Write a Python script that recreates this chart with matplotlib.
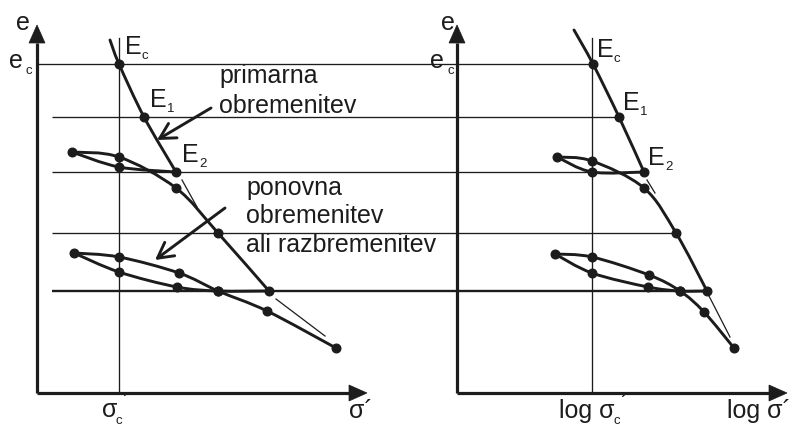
import numpy as np
import matplotlib
matplotlib.use("Agg")
import matplotlib.pyplot as plt
from matplotlib.path import Path
from matplotlib.patches import PathPatch, Polygon

plt.rcParams['font.family'] = ['Liberation Sans', 'DejaVu Sans']

INK = '#1c1c1c'

# Diagram coordinates: x grows to the right, e grows downward (sheet units).
# e-levels of the construction lines and where they start on the left
e_levels = [64, 117, 172, 233, 291]
line_start = [37, 52, 52, 52, 52]

# ---- e - sigma' diagram (left) ----
lin_sigma_c = 119
lin_virgin = [(110, 40), (119, 64), (144, 117), (176, 172)]
lin_unload1 = [(176, 172), (119, 167), (72, 152)]
lin_reload1 = [(72, 152), (119, 157), (176, 188), (218, 233), (269, 291)]
lin_unload2 = [(269, 291), (218, 291), (177, 287), (119, 272), (74, 253)]
lin_reload2 = [(74, 253), (119, 257), (179, 273), (218, 291), (267, 311), (336, 348)]
lin_extend = [[(182, 180), (197, 207)], [(276, 299), (325, 336)]]

# ---- e - log sigma' diagram (right) ----
log_sigma_c = 592
log_virgin = [(574, 30), (593, 64), (619, 117), (644, 172)]
log_unload1 = [(644, 172), (592, 172), (557, 157)]
log_reload1 = [(557, 157), (592, 161), (644, 188), (676, 233), (707, 291)]
log_unload2 = [(707, 291), (680, 291), (648, 287), (592, 273), (555, 254)]
log_reload2 = [(555, 254), (592, 257), (649, 275), (680, 291), (704, 312), (734, 348)]
log_extend = [[(647, 180), (655, 193)], [(709, 296), (730, 337)]]

# right-hand ends of the construction lines (points on the log diagram)
line_end = [593, 619, 644, 676, 707]

point_labels = ['c', '1', '2']


def smooth_path(pts):
    """Catmull-Rom curve through the points as cubic Bezier segments."""
    p = np.asarray(pts, dtype=float)
    n = len(p)
    verts = [p[0]]
    codes = [Path.MOVETO]
    if n == 2:
        return Path(p, [Path.MOVETO, Path.LINETO])
    for i in range(n - 1):
        p0 = p[i - 1] if i > 0 else p[i]
        p1, p2 = p[i], p[i + 1]
        p3 = p[i + 2] if i + 2 < n else p[i + 1]
        verts += [p1 + (p2 - p0) / 6.0, p2 - (p3 - p1) / 6.0, p2]
        codes += [Path.CURVE4] * 3
    return Path(verts, codes)


def curve(ax, pts, lw=2.1):
    ax.add_patch(PathPatch(smooth_path(pts), fill=False, lw=lw, ec=INK,
                           capstyle='round', joinstyle='round', zorder=3))


def dots(ax, pts):
    p = np.asarray(pts, dtype=float)
    ax.plot(p[:, 0], p[:, 1], 'o', ms=6.2, color=INK, zorder=5)


def axis_arrow(ax, x0, y0, x1, y1, head_len=18, half_w=8):
    d = np.array([x1 - x0, y1 - y0], dtype=float)
    d /= np.hypot(*d)
    nrm = np.array([-d[1], d[0]])
    tip = np.array([x1, y1], dtype=float)
    base = tip - d * head_len
    ax.plot([x0, base[0]], [y0, base[1]], color=INK, lw=2.3,
            solid_capstyle='butt', zorder=4)
    ax.add_patch(Polygon([tip, base + nrm * half_w, base - nrm * half_w],
                         closed=True, fc=INK, ec=INK, lw=0.5, zorder=4))


fig = plt.figure(figsize=(8.01, 4.26), dpi=100)
ax = fig.add_axes([0, 0, 1, 1])
ax.set_xlim(0, 801)
ax.set_ylim(426, 0)
ax.axis('off')

# construction lines across both diagrams
for k, (e, xs, xe) in enumerate(zip(e_levels, line_start, line_end)):
    ax.plot([xs, xe], [e, e], color=INK, lw=1.7 if k == len(e_levels) - 1 else 0.95,
            zorder=2, solid_capstyle='butt')

# sigma_c' verticals
for xc in (lin_sigma_c, log_sigma_c):
    ax.plot([xc, xc], [38, 393], color=INK, lw=0.95, zorder=2)

# axes with arrows
axis_arrow(ax, 37, 393, 37, 25)
axis_arrow(ax, 37, 393, 367, 393)
axis_arrow(ax, 457, 393, 457, 25)
axis_arrow(ax, 457, 393, 787, 393)

# compression / swelling curves
for branch in (lin_virgin, lin_unload1, lin_reload1, lin_unload2, lin_reload2,
               log_virgin, log_unload1, log_reload1, log_unload2, log_reload2):
    curve(ax, branch)
for seg in lin_extend + log_extend:
    s = np.asarray(seg)
    ax.plot(s[:, 0], s[:, 1], color=INK, lw=0.9, zorder=3)

dots(ax, lin_virgin[1:] + lin_unload1[1:] + lin_reload1[1:] + lin_unload2[1:]
     + lin_reload2[1:])
dots(ax, log_virgin[1:] + log_unload1[1:] + log_reload1[1:] + log_unload2[1:]
     + log_reload2[1:])

BIG = 18
SMALL = 9.5
txt = dict(color=INK, va='baseline', ha='left')

# axis names
ax.text(16, 30, 'e', fontsize=BIG, **txt)
ax.text(9, 68, 'e', fontsize=BIG, **txt)
ax.text(26, 74, 'c', fontsize=SMALL, **txt)
ax.text(441, 30, 'e', fontsize=BIG, **txt)
ax.text(430, 68, 'e', fontsize=BIG, **txt)
ax.text(447, 74, 'c', fontsize=SMALL, **txt)

# point names E_c, E_1, E_2
for (px, py), sub in zip(lin_virgin[1:], point_labels):
    ax.text(px + 6, py - 10, 'E', fontsize=BIG, **txt)
    ax.text(px + 23, py - 5, sub, fontsize=SMALL, **txt)
for (px, py), sub in zip(log_virgin[1:], point_labels):
    ax.text(px + 4, py - 7, 'E', fontsize=BIG, **txt)
    ax.text(px + 21, py - 2, sub, fontsize=SMALL, **txt)

# annotations (baseline refers to the last line of each block)
ax.text(219, 113, 'primarna\nobremenitev', fontsize=BIG, linespacing=1.3, **txt)
ax.text(246, 252, 'ponovna\nobremenitev\nali razbremenitev', fontsize=BIG,
        linespacing=1.25, **txt)
arrow_style = dict(arrowstyle='->,head_length=0.55,head_width=0.3', lw=2.1,
                   color=INK, mutation_scale=20, shrinkA=0, shrinkB=0)
ax.annotate('', xy=(157, 140), xytext=(211, 108), arrowprops=arrow_style)
ax.annotate('', xy=(155, 260), xytext=(225, 208), arrowprops=arrow_style)

# horizontal axis labels
ax.text(102, 417, 'σ', fontsize=BIG, **txt)
ax.text(116, 424, 'c', fontsize=SMALL, **txt)
ax.text(122, 411, '´', fontsize=BIG, **txt)
ax.text(349, 418, 'σ´', fontsize=BIG, **txt)
ax.text(559, 418, 'log σ', fontsize=BIG, **txt)
ax.text(613, 424, 'c', fontsize=SMALL, **txt)
ax.text(620, 412, '´', fontsize=BIG, **txt)
ax.text(727, 418, 'log σ´', fontsize=BIG, **txt)

fig.savefig('out.png', dpi=100)
